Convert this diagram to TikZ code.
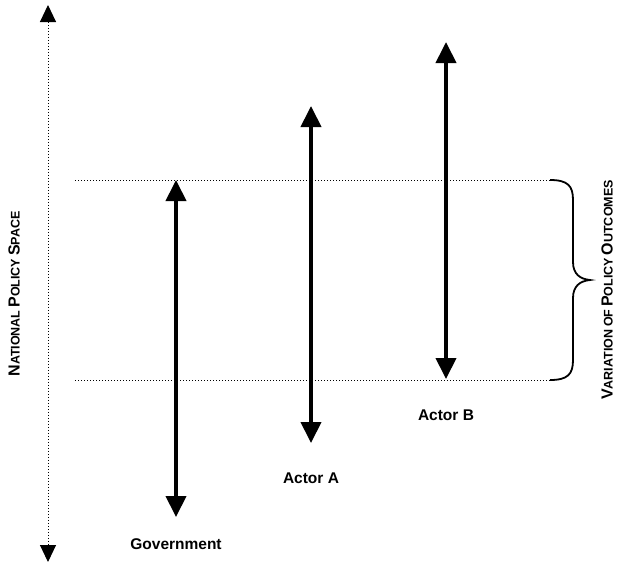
\documentclass[tikz,border=0pt]{standalone}
\usepackage{fontspec}
\setmainfont{Liberation Sans}[BoldFont={Liberation Sans Bold}]
\usetikzlibrary{arrows.meta,positioning}

\newcommand{\capword}[2]{{\fontsize{16}{18}\selectfont #1}{\fontsize{12.5}{14}\selectfont #2}}
\newcommand{\lowword}[1]{{\fontsize{12.5}{14}\selectfont #1}}

\begin{document}
\begin{tikzpicture}[
        x=1pt, y=-1pt,
        >={Triangle[length=21pt,width=20pt]},
        span/.style={<->, line width=4pt},
        bound/.style={dotted, line width=1pt},
        axis/.style={
          {Triangle[length=17pt,width=16pt]}-{Triangle[length=17pt,width=16pt]},
          dotted,
          line width=1pt},
        brace/.style={line width=1.8pt},
        actor/.style={font=\bfseries\fontsize{15.5}{17}\selectfont, inner sep=0pt},
        caption/.style={font=\bfseries, inner sep=0pt}
        ]
      \useasboundingbox (0,0) rectangle (617,563);
      % national policy space
      \coordinate (space top) at (48,5);
      \coordinate (space bottom) at (48,562);
      \draw[axis] (space top) -- (space bottom);
      \node[caption, rotate=90] (space) at (14,294) {%
        \capword{N}{ATIONAL} \capword{P}{OLICY} \capword{S}{PACE}};
      % band of outcomes
      \coordinate (upper left) at (75,180);
      \coordinate (upper right) at (550,180);
      \coordinate (lower left) at (75,380);
      \coordinate (lower right) at (550,380);
      \draw[bound] (upper left) -- (upper right);
      \draw[bound] (lower left) -- (lower right);
      \draw[brace] (upper right) .. controls (568,180) and (573,186) .. (573,200)
        -- (573,262) .. controls (573,274) and (580,279) .. (590,280)
        .. controls (580,281) and (573,286) .. (573,298)
        -- (573,360) .. controls (573,374) and (568,380) .. (lower right);
      \node[caption, rotate=90] (variation) at (607,290) {%
        \capword{V}{ARIATION} \lowword{OF} \capword{P}{OLICY} \capword{O}{UTCOMES}};
      % actors
      \coordinate (government top) at (176,180);
      \coordinate (government bottom) at (176,517);
      \draw[span] (government top) -- (government bottom);
      \node[actor] (government) at (176,544) {Government};
      \coordinate (actor a top) at (311,106);
      \coordinate (actor a bottom) at (311,443);
      \draw[span] (actor a top) -- (actor a bottom);
      \node[actor] (actor a) at (311,478) {Actor A};
      \coordinate (actor b top) at (446,42);
      \coordinate (actor b bottom) at (446,379);
      \draw[span] (actor b top) -- (actor b bottom);
      \node[actor] (actor b) at (446,415) {Actor B};
      \end{tikzpicture}
\end{document}
